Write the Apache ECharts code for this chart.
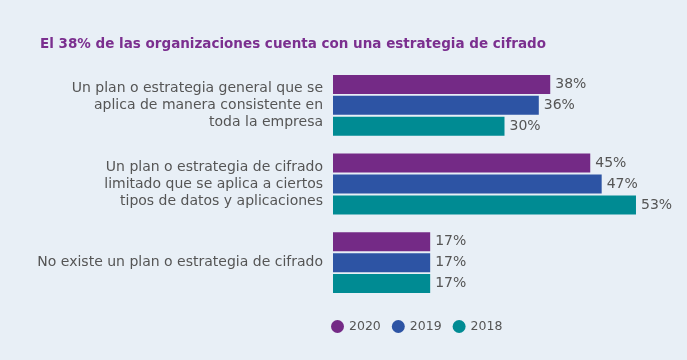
<!DOCTYPE html>
<html><head><meta charset="utf-8">
<script src="https://cdn.jsdelivr.net/npm/echarts@6/dist/echarts.min.js"></script>
<style>html,body{margin:0;padding:0;background:#e8eff6}#c{width:687px;height:360px}</style>
</head><body><div id="c"></div>
<script>
const categories = [
  "Un plan o estrategia general que se\naplica de manera consistente en\ntoda la empresa",
  "Un plan o estrategia de cifrado\nlimitado que se aplica a ciertos\ntipos de datos y aplicaciones",
  "No existe un plan o estrategia de cifrado"
];
const seriesNames = ["2020", "2019", "2018"];
const values2020 = [38, 45, 17];
const values2019 = [36, 47, 17];
const values2018 = [30, 53, 17];
const colors = ["#742a86", "#2d54a4", "#008b93"];
const titleText = "El 38% de las organizaciones cuenta con una estrategia de cifrado";

const font = "DejaVu Sans";
const allVals = [values2020, values2019, values2018];
const chart = echarts.init(document.getElementById('c'));
chart.setOption({
  backgroundColor: '#e8eff6',
  animation: false,
  title: { text: titleText, left: 35, top: 32,
    textStyle: { color: '#7b2f8f', fontSize: 13.5, fontWeight: 'bold', fontFamily: font } },
  legend: { bottom: 22, left: 326, icon: 'circle', itemWidth: 13, itemHeight: 13, itemGap: 11,
    textStyle: { color: '#555', fontSize: 12.5, fontFamily: font } },
  grid: { left: 333, right: 11, top: 66, bottom: 58 },
  xAxis: { type: 'value', min: 0, max: 60, show: false },
  yAxis: { type: 'category', data: categories, inverse: true,
    axisLine: { show: false }, axisTick: { show: false },
    axisLabel: { color: '#555', fontSize: 14, fontFamily: font, lineHeight: 17, margin: 10, align: 'right' } },
  series: seriesNames.map((n, i) => ({
    name: n, type: 'bar', data: allVals[i], barWidth: 19, barGap: '10%',
    itemStyle: { color: colors[i] },
    label: { show: true, position: 'right', formatter: '{c}%', color: '#555', fontSize: 14, fontFamily: font, distance: 5 }
  })),
  color: colors
});
</script></body></html>
